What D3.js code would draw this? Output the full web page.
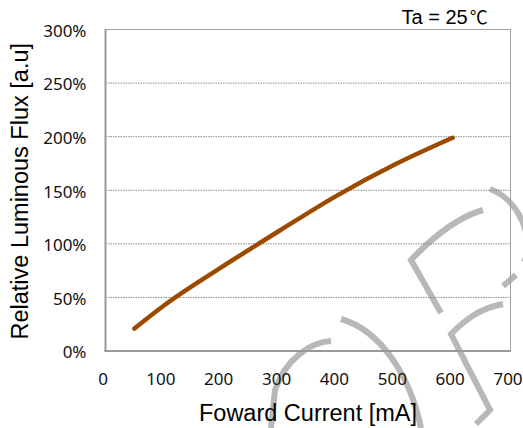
<!DOCTYPE html>
<html>
<head>
<meta charset="utf-8">
<script src="https://cdn.jsdelivr.net/npm/d3@7"></script>
<style>
  body { margin: 0; background: #fff; }
  svg { display: block; }
</style>
</head>
<body>
<div id="vis"></div>
<script>
// forward current [mA] vs relative luminous flux [%]
const currents = [50, 100, 200, 300, 400, 500, 600]
const flux = [21, 42, 78, 112, 145, 174, 199]

const xTicks = [0, 100, 200, 300, 400, 500, 600, 700]
const yTicks = [0, 50, 100, 150, 200, 250, 300]

const xAxisLabelText = 'Foward Current [mA]'
const yAxisLabelText = 'Relative Luminous Flux [a.u]'
const noteText = 'Ta = 25'

const data = currents.map((c, i) => ({ current: c, flux: flux[i] }))

const outerWidth = 523
const outerHeight = 428
const margin = { left: 105.5, top: 29.5, right: 12.5, bottom: 77 }
const innerWidth = outerWidth - margin.left - margin.right
const innerHeight = outerHeight - margin.top - margin.bottom

const svg = d3.select('#vis')
  .append('svg')
  .attr('width', outerWidth)
  .attr('height', outerHeight)

const g = svg.append('g')
  .attr('transform', `translate(${margin.left},${margin.top})`)

const xScale = d3.scaleLinear().domain([0, 700]).range([0, innerWidth])
const yScale = d3.scaleLinear().domain([0, 300]).range([innerHeight, 0])

// gridlines
g.append('g')
  .selectAll('line')
  .data(yTicks.filter(d => d > 0 && d < 300))
  .enter()
  .append('line')
  .attr('x1', 0)
  .attr('x2', innerWidth)
  .attr('y1', d => yScale(d))
  .attr('y2', d => yScale(d))
  .style('stroke', '#8a8a8a')
  .style('stroke-width', 1)
  .style('stroke-dasharray', '1.5,1')

// frame: top/right thin, left/bottom heavier
g.append('rect')
  .attr('width', innerWidth)
  .attr('height', innerHeight)
  .style('fill', 'none')
  .style('stroke', '#a0a0a0')
  .style('stroke-width', 1)

g.append('line')
  .attr('x1', 0).attr('x2', 0)
  .attr('y1', 0).attr('y2', innerHeight + 1)
  .style('stroke', '#999')
  .style('stroke-width', 2)

g.append('line')
  .attr('x1', -1).attr('x2', innerWidth)
  .attr('y1', innerHeight).attr('y2', innerHeight)
  .style('stroke', '#999')
  .style('stroke-width', 2)

// axes (labels only)
const xAxis = d3.axisBottom(xScale).tickValues(xTicks).tickSize(0).tickPadding(0)
const yAxis = d3.axisLeft(yScale).tickValues(yTicks).tickSize(0).tickPadding(0)
  .tickFormat(d => d + '%')

const xAxisG = g.append('g')
  .attr('transform', `translate(0,${innerHeight})`)
  .call(xAxis)
xAxisG.select('.domain').remove()
xAxisG.selectAll('text')
  .attr('y', 34)
  .attr('dy', 0)
  .attr('dx', -3)
  .style('font-family', '"Noto Sans", sans-serif')
  .style('font-size', '17px')
  .style('fill', '#111')

const yAxisG = g.append('g').call(yAxis)
yAxisG.select('.domain').remove()
yAxisG.selectAll('text')
  .attr('x', -19)
  .attr('dy', '0.4em')
  .style('font-family', '"Noto Sans", sans-serif')
  .style('font-size', '17px')
  .style('fill', '#111')

// curve
const line = d3.line()
  .x(d => xScale(d.current))
  .y(d => yScale(d.flux))
  .curve(d3.curveMonotoneX)

// watermark (drawn under the curve)
const wm = svg.append('g')
  .style('fill', 'none')
  .style('stroke', '#b8b8b8')
  .style('stroke-width', 6)
  .style('stroke-linecap', 'butt')
  .style('stroke-linejoin', 'miter')
wm.append('path').attr('d', 'M490,189 C520,200 535,240 524,262 M516,275 L503,286')
wm.append('path').attr('d', 'M483,210 C455,218 430,240 411,260 L441,313')
wm.append('path').attr('d', 'M503,304 C480,308 465,320 451,334 L490,410 L476,424')
wm.append('path').attr('d', 'M341,319 C380,330 410,375 421,428')
wm.append('path').attr('d', 'M331,341 C310,342 285,360 275,390 L271,428')
svg.node().insertBefore(wm.node(), g.node())

g.append('path')
  .datum(data)
  .attr('d', line)
  .style('fill', 'none')
  .style('stroke', '#9b4a00')
  .style('stroke-width', 4.5)
  .style('stroke-linecap', 'round')

// axis titles
svg.append('text')
  .attr('x', margin.left + innerWidth / 2)
  .attr('y', 420.5)
  .style('text-anchor', 'middle')
  .style('font-family', '"Liberation Sans", Arial, sans-serif')
  .style('font-size', '23.5px')
  .style('fill', '#000')
  .text(xAxisLabelText)

svg.append('text')
  .attr('transform', `translate(27.5,${margin.top + innerHeight / 2 + 1}) rotate(-90)`)
  .style('text-anchor', 'middle')
  .style('font-family', '"Liberation Sans", Arial, sans-serif')
  .style('font-size', '23.5px')
  .style('fill', '#000')
  .text(yAxisLabelText)

// condition note
const note = svg.append('text')
  .attr('x', 401.5)
  .attr('y', 24)
  .style('font-family', '"Liberation Sans", Arial, sans-serif')
  .style('font-size', '20px')
  .style('fill', '#000')
note.append('tspan').text(noteText)
note.append('tspan')
  .attr('dx', 2)
  .style('font-family', '"Noto Sans CJK KR", sans-serif')
  .style('font-size', '18px')
  .text('℃')
</script>
</body>
</html>
